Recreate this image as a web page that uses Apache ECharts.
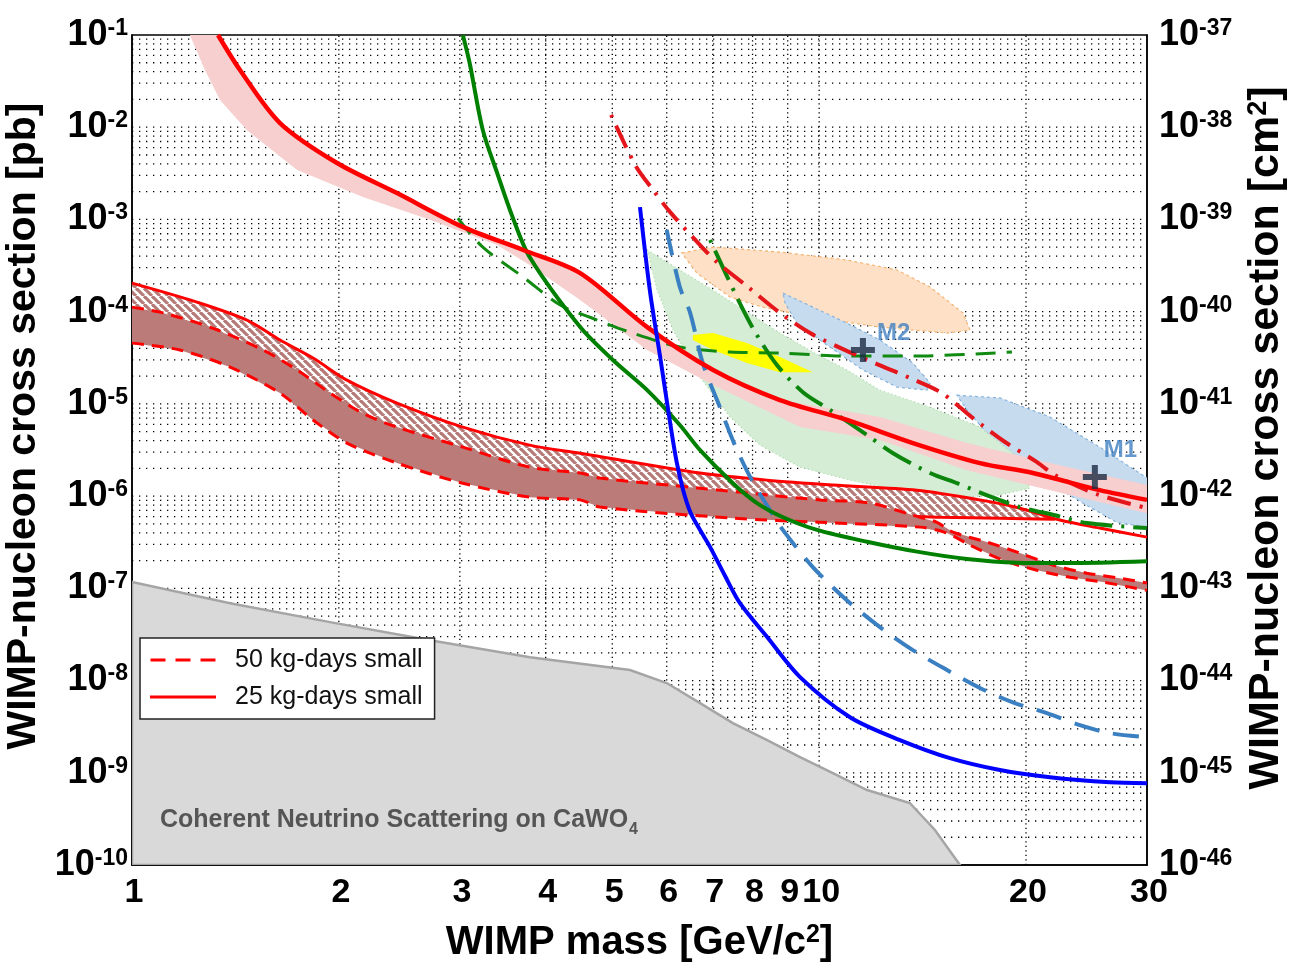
<!DOCTYPE html>
<html><head><meta charset="utf-8">
<script src="https://cdn.jsdelivr.net/npm/echarts@6/dist/echarts.min.js"></script>
<style>html,body{margin:0;padding:0;background:#fff}#c{width:1289px;height:964px}</style>
</head><body><div id="c"></div>
<script>
// ---------------- data: [WIMP mass (GeV/c^2), cross section (pb)] ----------------
const massTicks = [1, 2, 3, 4, 5, 6, 7, 8, 9, 10, 20, 30];
const massGrid = [2, 3, 4, 5, 6, 7, 8, 9, 10, 20];
const PB_TO_CM2_EXP = -36; // 1 pb = 1e-36 cm^2 (right axis)

const neutrinoFloor = [[1,1.17e-7],[1.389,6.9e-8],[1.942,4.3e-8],[2.714,2.74e-8],[3.795,1.79e-8],[5.305,1.30e-8],[6.0,9.4e-9],[6.71,5.7e-9],[7.49,3.45e-9],[8.40,2.26e-9],[9.38,1.48e-9],[10.47,9.9e-10],[11.74,6.5e-10],[13.55,4.7e-10],[14.74,2.4e-10],[16.03,1e-10]];

const redSolidCurve = [[1.334,1e-1],[1.436,4.17e-2],[1.642,1.11e-2],[1.988,4.09e-3],[2.43,1.93e-3],[3.03,8.3e-4],[3.71,4.66e-4],[4.49,2.62e-4],[5.62,6.8e-5],[7.01,2.33e-5],[8.77,1.10e-5],[10.98,6.7e-6],[13.69,3.76e-6],[17.14,2.28e-6],[20.47,1.78e-6],[25.6,1.16e-6],[30,9.1e-7]];
const pinkBandUpper = [[1.334,1e-1],[1.436,4.17e-2],[1.642,1.11e-2],[1.988,4.09e-3],[2.43,1.93e-3],[3.03,8.3e-4],[3.71,4.66e-4],[4.49,2.62e-4],[5.62,6.8e-5],[7.01,2.33e-5],[8.77,1.10e-5],[12.26,7.2e-6],[16.41,3.76e-6],[21.67,2.28e-6],[30,1.32e-6]];
const pinkBandLower = [[1.214,1e-1],[1.277,4.17e-2],[1.343,1.97e-2],[1.470,9.3e-3],[1.739,3.44e-3],[2.168,1.75e-3],[2.714,9.9e-4],[3.40,5.27e-4],[3.79,3.2e-4],[4.49,1.34e-4],[5.62,3.84e-5],[7.01,1.60e-5],[9.38,5.6e-6],[12.26,4.05e-6],[16.41,1.91e-6],[21.67,1.16e-6],[30,6.5e-7]];

const band25Upper = [[1,2.04e-4],[1.243,1.27e-4],[1.470,8.1e-5],[1.642,4.92e-5],[1.834,3.14e-5],[2.055,1.81e-5],[2.43,1.02e-5],[3.03,5.6e-6],[3.79,3.57e-6],[4.49,2.92e-6],[6.71,1.78e-6],[8.40,1.49e-6],[10.47,1.32e-6],[13.88,1.16e-6],[17.14,9.1e-7],[19.60,7.4e-7],[22.4,5.5e-7],[25.6,4.5e-7],[30,3.59e-7]];
const band25Lower = [[1,7.2e-5],[1.485,2.99e-5],[2.076,5.9e-6],[3.03,2.17e-6],[4.49,1.25e-6],[6.71,9.1e-7],[9.38,7.05e-7],[13.11,6.07e-7],[14.99,5.9e-7],[18.33,5.77e-7],[22.03,5.6e-7]];
const band50Upper = [[1,1.12e-4],[1.110,9.7e-5],[1.312,6.6e-5],[1.551,3.84e-5],[1.739,2.33e-5],[1.942,1.31e-5],[2.168,7.9e-6],[2.43,5.6e-6],[3.03,3.40e-6],[3.79,2.06e-6],[4.49,1.78e-6],[4.80,1.57e-6],[6.71,1.22e-6],[8.40,1.03e-6],[10.03,9.1e-7],[11.86,8.4e-7],[13.69,6.2e-7],[14.84,5.2e-7],[15.66,4.07e-7],[17.55,3.17e-7],[19.60,2.41e-7],[21.89,1.79e-7],[24.53,1.46e-7],[27.4,1.29e-7],[30,1.14e-7]];
const band50Lower = [[1,4.56e-5],[1.174,3.84e-5],[1.389,2.51e-5],[1.642,1.31e-5],[1.834,6.7e-6],[2.055,3.76e-6],[2.43,2.28e-6],[3.03,1.38e-6],[3.79,9.75e-7],[4.49,9.1e-7],[4.80,7.6e-7],[7.49,5.77e-7],[10.03,5.2e-7],[14.02,4.61e-7],[15.35,3.97e-7],[16.58,2.94e-7],[18.51,2.02e-7],[20.75,1.57e-7],[23.17,1.32e-7],[25.88,1.17e-7],[30,9.5e-8]];

const greenSolidCurve = [[3.03,1e-1],[3.10,4.97e-2],[3.24,9.3e-3],[3.40,3.18e-3],[3.58,1.06e-3],[3.79,3.91e-4],[4.49,6.8e-5],[5.01,2.99e-5],[5.62,1.41e-5],[6.27,5.9e-6],[6.71,3.15e-6],[7.49,1.38e-6],[8.12,8.4e-7],[8.86,5.9e-7],[9.93,4.3e-7],[11.74,3.2e-7],[13.88,2.5e-7],[16.41,2.08e-7],[19.41,1.9e-7],[22.94,1.88e-7],[30,1.97e-7]];
const greenDashedCurve = [[2.98,1.03e-3],[3.24,5.0e-4],[3.71,2.37e-4],[4.20,1.18e-4],[4.64,8.7e-5],[5.30,6.0e-5],[6.27,4.13e-5],[7.42,3.65e-5],[8.77,3.56e-5],[10.98,3.30e-5],[13.69,3.30e-5],[19.08,3.65e-5]];
const greenDashDotCurve = [[6.94,5.98e-4],[7.59,1.44e-4],[8.07,6.0e-5],[8.68,2.64e-5],[9.47,1.34e-5],[10.37,8.6e-6],[11.74,4.59e-6],[12.81,2.92e-6],[14.50,1.78e-6],[15.87,1.38e-6],[17.84,9.75e-7],[19.60,7.6e-7],[22.03,6.2e-7],[24.53,5.1e-7],[30,4.5e-7]];
const blueSolidCurve = [[5.486,1.36e-3],[5.67,1.71e-4],[5.87,3.22e-5],[6.07,6.2e-6],[6.2,2.4e-6],[6.34,1.16e-6],[6.5,6.6e-7],[6.71,4.28e-7],[6.94,2.8e-7],[7.3,1.35e-7],[7.67,6.9e-8],[8.40,2.96e-8],[9.38,1.09e-8],[11.09,4.0e-9],[13.11,2.26e-9],[15.50,1.44e-9],[18.33,1.07e-9],[21.67,8.95e-10],[26.5,7.9e-10],[30,7.7e-10]];
const blueDashedCurve = [[6.00,7.7e-4],[6.27,1.85e-4],[6.49,9.7e-5],[6.77,2.77e-5],[7.17,9.2e-6],[7.54,3.57e-6],[7.98,1.49e-6],[8.48,7.05e-7],[8.86,4.28e-7],[9.79,1.70e-7],[10.98,7.4e-8],[12.26,3.79e-8],[13.69,2.14e-8],[15.35,1.30e-8],[17.14,8.3e-9],[19.14,5.8e-9],[21.45,4.43e-9],[23.96,3.28e-9],[26.5,2.69e-9],[30,2.43e-9]];
const redDashDotCurve = [[4.98,1.36e-2],[5.40,3.89e-3],[5.73,2.09e-3],[6.07,1.20e-3],[6.71,5.27e-4],[7.10,3.45e-4],[7.88,1.85e-4],[8.77,9.7e-5],[9.70,5.86e-5],[10.83,3.93e-5],[12.14,2.70e-5],[13.55,1.91e-5],[15.09,1.31e-5],[16.74,7.0e-6],[18.64,3.86e-6],[20.75,2.34e-6],[22.03,1.69e-6],[25.37,1.05e-6],[29.6,7.6e-7]];

const orangeRegion = [[6.31,4.33e-4],[7.01,5.02e-4],[8.77,4.43e-4],[10.98,3.63e-4],[12.98,2.83e-4],[14.50,1.85e-4],[16.19,9.7e-5],[16.58,6.3e-5],[15.35,5.86e-5],[12.26,6.8e-5],[9.79,8.7e-5],[8.28,1.12e-4],[7.42,1.44e-4],[6.64,2.62e-4]];
const m2Region = [[8.86,1.59e-4],[9.79,1.12e-4],[10.98,7.5e-5],[12.26,4.92e-5],[13.69,2.77e-5],[14.50,1.68e-5],[14.35,1.41e-5],[12.98,1.52e-5],[11.58,2.33e-5],[10.37,4.13e-5],[9.28,7.5e-5],[8.92,1.24e-4]];
const m1Region = [[15.87,1.24e-5],[18.33,1.16e-5],[21.67,7.2e-6],[25.6,3.40e-6],[30,1.57e-6],[32,1.0e-6],[30,4.61e-7],[27.1,5.2e-7],[24.2,8.4e-7],[21.67,1.38e-6],[19.14,2.65e-6],[17.55,4.82e-6],[16.41,8.6e-6]];
const greenRegion = [[5.62,4.66e-4],[6.27,2.83e-4],[7.01,1.71e-4],[7.85,9.9e-5],[8.77,5.86e-5],[9.79,3.65e-5],[10.98,2.33e-5],[12.26,1.41e-5],[14.50,9.2e-6],[17.14,5.6e-6],[19.14,2.92e-6],[20.27,1.22e-6],[18.33,1.03e-6],[16.41,9.75e-7],[13.11,1.16e-6],[11.09,1.49e-6],[9.38,2.06e-6],[8.20,3.57e-6],[7.42,7.2e-6],[6.71,1.95e-5],[6.13,6.3e-5],[5.81,1.71e-4]];
const yellowRegion = [[6.55,5.57e-5],[7.01,5.86e-5],[7.85,4.56e-5],[8.77,3.22e-5],[9.79,2.21e-5],[8.77,2.21e-5],[7.85,2.77e-5],[7.01,3.84e-5],[6.55,4.92e-5]];

const bestFitM2 = [11.58, 3.84e-5];
const bestFitM1 = [25.19, 1.61e-6];

// ---------------- chart ----------------
const FONT = "'Liberation Sans', Arial, Helvetica, sans-serif";
const chart = echarts.init(document.getElementById('c'), null, {renderer: 'canvas'});

const sigmaGrid = [];
for (let e = -10; e <= -2; e++) {
  for (let k = 1; k <= 9; k++) {
    if (e === -10 && k === 1) continue;
    sigmaGrid.push(k * Math.pow(10, e));
  }
}

function hatchPattern() {
  const s = 8, c = document.createElement('canvas');
  c.width = s; c.height = s;
  const g = c.getContext('2d');
  g.fillStyle = '#ffffff'; g.fillRect(0, 0, s, s);
  g.strokeStyle = '#b67a77'; g.lineWidth = 3.2;
  for (let k = -1; k <= 1; k++) { g.beginPath(); g.moveTo(k * s, 0); g.lineTo(k * s + s, s); g.stroke(); }
  return c;
}

function region(name, pts, fill, stroke, dash, z, lw) {
  return {
    type: 'custom', name: name, z: z, clip: true, silent: true, data: pts,
    renderItem: function (params, api) {
      if (params.dataIndex !== 0) return null;
      return {
        type: 'polygon',
        shape: { points: pts.map(function (p) { return api.coord(p); }), smooth: 0 },
        style: { fill: fill, stroke: stroke || null, lineWidth: lw || (stroke ? 1.2 : 0), lineDash: dash || null }
      };
    }
  };
}
function band(name, upper, lower, fill, z) {
  return region(name, upper.concat(lower.slice().reverse()), fill, null, null, z);
}
function curve(name, pts, color, width, type, z, offset) {
  return {
    type: 'line', name: name, data: pts, symbol: 'none', smooth: 0.3, z: z, silent: true,
    itemStyle: { color: color },
    lineStyle: { color: color, width: width, type: type, cap: 'butt', dashOffset: offset || 0 },
    emphasis: { disabled: true }
  };
}
function expLabel(shift) {
  return function (v) { return '{b|10}{s|' + (Math.round(Math.log10(v)) + shift) + '}'; };
}

const supRich = {
  b: { fontFamily: FONT, fontWeight: 'bold', fontSize: 36, lineHeight: 36, verticalAlign: 'bottom', color: '#000' },
  s: { fontFamily: FONT, fontWeight: 'bold', fontSize: 23, lineHeight: 23, padding: [0, 0, 26, 0], verticalAlign: 'top', color: '#000' }
};
const nameRich = {
  a: { fontFamily: FONT, fontWeight: 'bold', fontSize: 40, lineHeight: 40, verticalAlign: 'bottom', color: '#000' },
  s: { fontFamily: FONT, fontWeight: 'bold', fontSize: 25, lineHeight: 25, padding: [0, 0, 22, 0], verticalAlign: 'top', color: '#000' }
};
const nameRichRight = {
  a: { fontFamily: FONT, fontWeight: 'bold', fontSize: 43, lineHeight: 43, verticalAlign: 'bottom', color: '#000' },
  s: { fontFamily: FONT, fontWeight: 'bold', fontSize: 27, lineHeight: 27, padding: [0, 0, 23, 0], verticalAlign: 'top', color: '#000' }
};

const hatch = hatchPattern();
const band25Poly = band25Upper.filter(function (p) { return p[0] <= 22.4; });

const series = [
  {
    type: 'custom', z: 1, silent: true, clip: true, data: massGrid.map(function (v) { return [v, 1e-5]; }),
    renderItem: function (params, api) {
      const a = api.coord([api.value(0), 1e-10]), b = api.coord([api.value(0), 1e-1]);
      return { type: 'line', shape: { x1: a[0], y1: a[1], x2: b[0], y2: b[1] }, style: { stroke: '#000', lineWidth: 1.3, lineDash: [1.3, 3.2] } };
    }
  },
  {
    type: 'custom', z: 1, silent: true, clip: true, data: sigmaGrid.map(function (v) { return [2, v]; }),
    renderItem: function (params, api) {
      const a = api.coord([1, api.value(1)]), b = api.coord([30, api.value(1)]);
      return { type: 'line', shape: { x1: a[0], y1: a[1], x2: b[0], y2: b[1] }, style: { stroke: '#000', lineWidth: 1.3, lineDash: [1.3, 5.7] } };
    }
  },
  {
    type: 'custom', z: 10, silent: true, clip: false, data: massTicks.map(function (v) { return [v, 1e-10]; }),
    renderItem: function (params, api) {
      const c = api.coord([api.value(0), 1e-10]);
      return { type: 'text', x: c[0] + 2, y: c[1] + 28, style: { text: String(api.value(0)), fontFamily: FONT, fontWeight: 'bold', fontSize: 34, fill: '#000', align: 'center', verticalAlign: 'middle' } };
    }
  },
  region('neutrino', neutrinoFloor.concat([[1, 1e-10]]), '#d9d9d9', '#a5a5a5', null, 2, 2.5),
  region('orange', orangeRegion, '#fde0c5', '#f3b373', [3, 3], 3),
  region('M2 region', m2Region, '#c7dbee', '#86b4de', [3, 3], 3),
  region('M1 region', m1Region, '#c7dbee', '#86b4de', [3, 3], 3),
  region('green region', greenRegion, '#d4edd4', '#a8d8a8', [1, 3], 3),
  region('yellow region', yellowRegion, '#ffff00', null, null, 3),
  band('pink band', pinkBandUpper, pinkBandLower, '#f7cfcf', 4),
  region('hatch', band25Poly.concat(band25Lower.slice().reverse()), { image: hatch, repeat: 'repeat' }, null, null, 5),
  curve('25 kg-days small', band25Lower, '#ff0000', 3, 'solid', 6),
  band('brown band', band50Upper, band50Lower, '#bb7b78', 7),
  curve('50 kg-days small', band50Upper, '#ff0000', 3, [12, 8], 8),
  curve('50 kg-days small', band50Lower, '#ff0000', 3, [12, 8], 8),
  curve('25 kg-days small', band25Upper, '#ff0000', 3, 'solid', 8),
  curve('green dashed', greenDashedCurve, '#118a11', 3, [20, 11], 8),
  curve('green dashdot', greenDashDotCurve, '#0c850c', 4, [32, 9, 3, 9], 8, 41),
  curve('steel dashed', blueDashedCurve, '#3a7fc1', 4, [26, 14], 8),
  curve('red dashdot', redDashDotCurve, '#e4161c', 4, [24, 9, 3, 9], 8, 33),
  curve('green solid', greenSolidCurve, '#008000', 4, 'solid', 8),
  curve('red solid', redSolidCurve, '#ff0000', 4.5, 'solid', 8),
  curve('blue solid', blueSolidCurve, '#0000ff', 4, 'solid', 8),
  {
    type: 'scatter', name: 'M2', data: [bestFitM2], z: 9, silent: true,
    symbol: 'path://M9,0H15V9H24V15H15V24H9V15H0V9H9Z', symbolSize: 24, itemStyle: { color: '#1b2a42' },
    label: { show: true, formatter: 'M2', position: [26, -17], color: '#3f80c2', fontSize: 24, fontWeight: 'bold', fontFamily: FONT }
  },
  {
    type: 'scatter', name: 'M1', data: [bestFitM1], z: 9, silent: true,
    symbol: 'path://M9,0H15V9H24V15H15V24H9V15H0V9H9Z', symbolSize: 24, itemStyle: { color: '#1b2a42' },
    label: { show: true, formatter: 'M1', position: [21, -27], color: '#3f80c2', fontSize: 24, fontWeight: 'bold', fontFamily: FONT }
  }
];

chart.setOption({
  animation: false,
  backgroundColor: '#fff',
  grid: { left: 132, right: 142, top: 35, bottom: 99, show: true, borderColor: '#000', borderWidth: 1.5, backgroundColor: 'transparent', containLabel: false, outerBoundsMode: 'none' },
  xAxis: {
    type: 'log', logBase: 10, min: 1, max: 30,
    axisLabel: { show: false }, axisTick: { show: false }, splitLine: { show: false },
    axisLine: { show: true, lineStyle: { color: '#000', width: 1.5 } },
    name: '{a|WIMP mass [GeV/c}{s|2}{a|]}', nameLocation: 'middle', nameGap: 58,
    nameTextStyle: { rich: nameRich }
  },
  yAxis: [{
    type: 'log', logBase: 10, min: 1e-10, max: 1e-1, splitNumber: 9, position: 'left',
    axisLine: { show: true, lineStyle: { color: '#000', width: 1.5 } },
    axisTick: { show: false }, splitLine: { show: false },
    axisLabel: { margin: 4, formatter: expLabel(0), rich: supRich },
    name: 'WIMP-nucleon cross section [pb]', nameLocation: 'middle', nameGap: 72,
    nameTextStyle: { fontFamily: FONT, fontWeight: 'bold', fontSize: 41, color: '#000', padding: [0, 0, 0, 48] }
  }, {
    type: 'log', logBase: 10, min: 1e-10, max: 1e-1, splitNumber: 9, position: 'right',
    axisLine: { show: true, lineStyle: { color: '#000', width: 1.5 } },
    axisTick: { show: false }, splitLine: { show: false },
    axisLabel: { margin: 12, formatter: expLabel(PB_TO_CM2_EXP), rich: supRich },
    name: '{a|WIMP-nucleon cross section [cm}{s|2}{a|]}', nameLocation: 'middle', nameGap: 98,
    nameTextStyle: { rich: nameRichRight, padding: [0, 0, 0, 24] }
  }],
  legend: {
    show: true, left: 140, top: 638, orient: 'vertical', selectedMode: false,
    data: [
      { name: '50 kg-days small', icon: 'path://M0,0H15V3H0Z M25,0H40V3H25Z M50,0H65V3H50Z' },
      { name: '25 kg-days small', icon: 'path://M0,0H66V3H0Z' }
    ],
    itemWidth: 66, itemHeight: 3, itemGap: 9,
    backgroundColor: '#fff', borderColor: '#222', borderWidth: 1.5, borderRadius: 0, padding: [8, 12, 8, 10],
    textStyle: { fontFamily: FONT, fontSize: 25, color: '#111', lineHeight: 28, padding: [0, 0, 0, 14] },
    z: 20
  },
  graphic: [{
    type: 'text', left: 160, top: 808, z: 20, silent: true,
    style: {
      text: '{a|Coherent Neutrino Scattering on CaWO}{b|4}',
      rich: {
        a: { fontFamily: FONT, fontWeight: 'bold', fontSize: 25, lineHeight: 30, verticalAlign: 'top', fill: '#555' },
        b: { fontFamily: FONT, fontWeight: 'bold', fontSize: 16, lineHeight: 18, padding: [14, 0, 0, 1], verticalAlign: 'top', fill: '#555' }
      }
    }
  }],
  series: series
});
</script>
</body></html>
